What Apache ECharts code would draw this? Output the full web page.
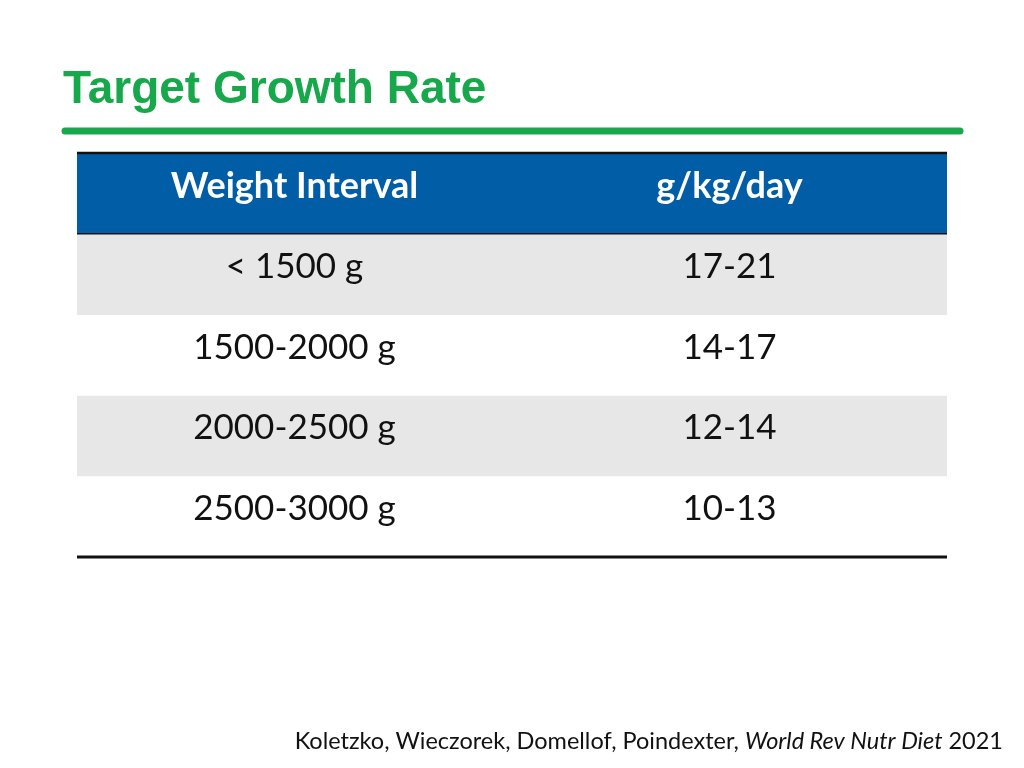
<!DOCTYPE html>
<html>
<head>
<meta charset="utf-8">
<script src="https://cdn.jsdelivr.net/npm/echarts@6/dist/echarts.min.js"></script>
<style>
html,body{margin:0;padding:0;background:#fff;}
#chart{width:1024px;height:768px;}
</style>
</head>
<body>
<div id="chart"></div>
<script>
// ---- data ----
const titleText = 'Target Growth Rate';
const columnHeaders = ['Weight Interval', 'g/kg/day'];
const weightIntervals = ['< 1500 g', '1500-2000 g', '2000-2500 g', '2500-3000 g'];
const growthRates = ['17-21', '14-17', '12-14', '10-13'];
const sourceAuthors = 'Koletzko, Wieczorek, Domellof, Poindexter, ';
const sourceJournal = 'World Rev Nutr Diet';
const sourceYear = ' 2021';

// ---- build table from arrays ----
const rowKeys = ['header'].concat(weightIntervals);
const cellText = [columnHeaders].concat(weightIntervals.map((w, i) => [w, growthRates[i]]));
const cells = [];
for (let r = 0; r < rowKeys.length; r++) {
  for (let c = 0; c < 2; c++) cells.push([c, r]);
}

const GREEN = '#17A84C';
const BLUE = '#005DA6';
const GREY = '#E7E7E7';
const FONT = 'Lato, "Open Sans", sans-serif';

const chart = echarts.init(document.getElementById('chart'), null, {renderer: 'canvas'});
chart.setOption({
  backgroundColor: '#ffffff',
  animation: false,
  title: {
    text: titleText,
    left: 58,
    top: 62,
    textStyle: {fontFamily: '"Liberation Sans", Arial, sans-serif', fontWeight: 'bold', fontSize: 46, color: GREEN}
  },
  graphic: [
    {type: 'line', shape: {x1: 65, y1: 131, x2: 960, y2: 131},
     style: {stroke: GREEN, lineWidth: 7, lineCap: 'round'}},
    {type: 'text', x: 1003, y: 741,
     style: {
       text: '{n|' + sourceAuthors + '}{i|' + sourceJournal + '}{n|' + sourceYear + '}',
       align: 'right', verticalAlign: 'middle',
       rich: {
         n: {fontFamily: FONT, fontSize: 23.5, fill: '#111'},
         i: {fontFamily: FONT, fontSize: 23.5, fontStyle: 'italic', fill: '#111'}
       }
     }}
  ],
  grid: {left: 77, right: 77, top: 154, bottom: 211},
  xAxis: {type: 'value', min: 0, max: 2, show: false},
  yAxis: {type: 'category', data: rowKeys, inverse: true, show: false},
  series: [{
    type: 'custom',
    coordinateSystem: 'cartesian2d',
    data: cells,
    renderItem: function (params, api) {
      const c = api.value(0), r = api.value(1);
      const p = api.coord([c, r]);
      const s = api.size([1, 1]);
      const x0 = p[0], y0 = p[1] - s[1] / 2, w = s[0], h = s[1];
      const last = rowKeys.length - 1;
      const fill = r === 0 ? BLUE : (r % 2 === 1 ? GREY : '#ffffff');
      const children = [
        {type: 'rect', shape: {x: x0, y: y0, width: w, height: h}, style: {fill: fill}},
        {type: 'text', x: x0 + w / 2, y: p[1] - 8,
         style: {
           text: cellText[r][c], align: 'center', verticalAlign: 'middle',
           fontFamily: FONT, fontSize: r === 0 ? 36 : 35, fontWeight: r === 0 ? 'bold' : 'normal',
           fill: r === 0 ? '#ffffff' : '#111111'
         }}
      ];
      if (r === 0) {
        children.push({type: 'line', shape: {x1: x0, y1: y0 - 1, x2: x0 + w, y2: y0 - 1}, style: {stroke: '#111', lineWidth: 2.5}});
        children.push({type: 'line', shape: {x1: x0, y1: y0 + h, x2: x0 + w, y2: y0 + h}, style: {stroke: '#111', lineWidth: 3}});
      }
      if (r === last) {
        children.push({type: 'line', shape: {x1: x0, y1: y0 + h, x2: x0 + w, y2: y0 + h}, style: {stroke: '#111', lineWidth: 3}});
      }
      return {type: 'group', children: children};
    }
  }]
});
</script>
</body>
</html>
